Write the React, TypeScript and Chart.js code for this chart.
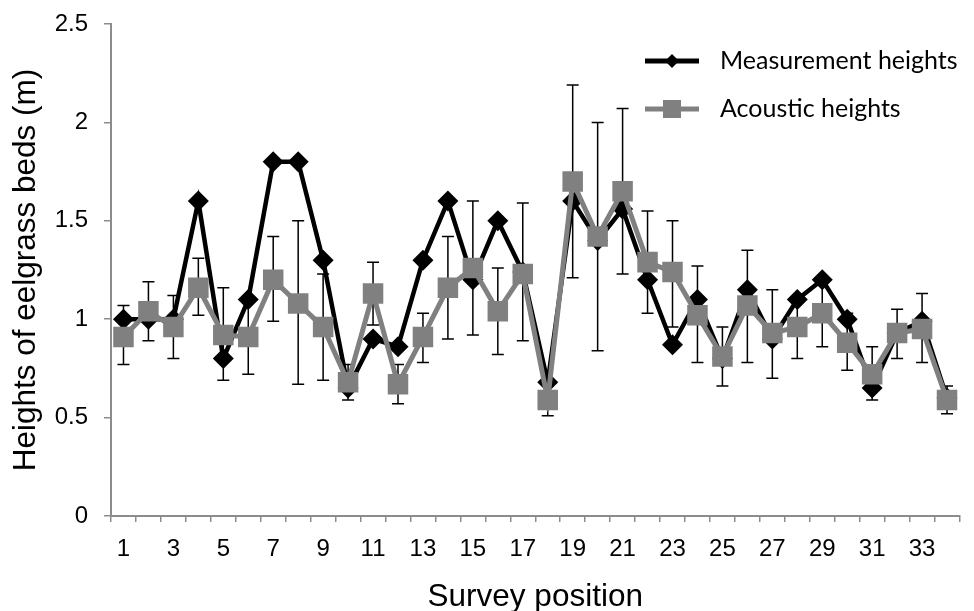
import React, { useEffect, useRef } from "react";
import { Chart, registerables } from "chart.js";

Chart.register(...registerables);

const positions: string[] = Array.from({ length: 34 }, (_, i) => String(i + 1));

const measurementHeights: number[] = [
  1.0, 1.0, 1.0, 1.6, 0.8, 1.1, 1.8, 1.8, 1.3, 0.65, 0.9, 0.86, 1.3, 1.6, 1.2, 1.5, 1.24,
  0.68, 1.6, 1.4, 1.56, 1.2, 0.87, 1.1, 0.8, 1.15, 0.9, 1.1, 1.2, 1.0, 0.65, 0.93, 0.99, 0.6,
];

const acousticHeights: number[] = [
  0.91, 1.04, 0.96, 1.16, 0.92, 0.91, 1.2, 1.08, 0.96, 0.68, 1.13, 0.67, 0.91, 1.16, 1.26,
  1.04, 1.23, 0.59, 1.7, 1.42, 1.65, 1.29, 1.24, 1.02, 0.81, 1.07, 0.93, 0.96, 1.03, 0.88,
  0.72, 0.93, 0.95, 0.59,
];

const errorHigh: number[] = [
  1.07, 1.19, 1.12, 1.31, 1.16, 1.1, 1.42, 1.5, 1.23, 0.77, 1.29, 0.77, 1.03, 1.42, 1.6,
  1.26, 1.59, 0.67, 2.19, 2.0, 2.07, 1.55, 1.5, 1.27, 0.96, 1.35, 1.15, 1.11, 1.2, 1.03,
  0.86, 1.05, 1.13, 0.66,
];

const errorLow: number[] = [
  0.77, 0.89, 0.8, 1.02, 0.69, 0.72, 0.99, 0.67, 0.69, 0.59, 0.97, 0.57, 0.78, 0.9, 0.92,
  0.82, 0.89, 0.51, 1.21, 0.84, 1.23, 1.03, 0.96, 0.78, 0.66, 0.78, 0.7, 0.8, 0.86, 0.74,
  0.59, 0.8, 0.78, 0.52,
];

const yTicks: number[] = [0, 0.5, 1, 1.5, 2, 2.5];

const AXIS_FONT = "'Liberation Sans', Arial, sans-serif";
const LEGEND_FONT = "Lato, 'Open Sans', sans-serif";
const GRAY = "#808080";
const AXIS_GRAY = "#8c8c8c";

const errorBarPlugin = {
  id: "errorBars",
  beforeDatasetsDraw(chart: any) {
    const { ctx, scales } = chart;
    const xs = scales.x;
    const ys = scales.y;
    ctx.save();
    ctx.strokeStyle = "#000";
    ctx.lineWidth = 1.5;
    const cap = 6;
    for (let i = 0; i < positions.length; i++) {
      const x = xs.getPixelForValue(i);
      const yh = ys.getPixelForValue(errorHigh[i]);
      const yl = ys.getPixelForValue(errorLow[i]);
      ctx.beginPath();
      ctx.moveTo(x, yh);
      ctx.lineTo(x, yl);
      ctx.moveTo(x - cap, yh);
      ctx.lineTo(x + cap, yh);
      ctx.moveTo(x - cap, yl);
      ctx.lineTo(x + cap, yl);
      ctx.stroke();
    }
    ctx.restore();
  },
};

const legendPlugin = {
  id: "customLegend",
  afterDraw(chart: any) {
    const { ctx } = chart;
    ctx.save();
    const x0 = 645;
    const x1 = 699;
    const xm = (x0 + x1) / 2;
    const tx = 720;
    let y = 61;
    ctx.strokeStyle = "#000";
    ctx.lineWidth = 5;
    ctx.beginPath();
    ctx.moveTo(x0, y);
    ctx.lineTo(x1, y);
    ctx.stroke();
    ctx.fillStyle = "#000";
    ctx.beginPath();
    const r = 7;
    ctx.moveTo(xm, y - r);
    ctx.lineTo(xm + r, y);
    ctx.lineTo(xm, y + r);
    ctx.lineTo(xm - r, y);
    ctx.closePath();
    ctx.fill();
    ctx.font = `25px ${LEGEND_FONT}`;
    ctx.textBaseline = "middle";
    ctx.textAlign = "left";
    ctx.fillText("Measurement heights", tx, y);
    y = 109;
    ctx.strokeStyle = GRAY;
    ctx.lineWidth = 5;
    ctx.beginPath();
    ctx.moveTo(x0, y);
    ctx.lineTo(x1, y);
    ctx.stroke();
    ctx.fillStyle = GRAY;
    ctx.fillRect(xm - 9, y - 9, 18, 18);
    ctx.fillStyle = "#000";
    ctx.fillText("Acoustic heights", tx, y);
    ctx.restore();
  },
};

export default function App() {
  const canvasRef = useRef<HTMLCanvasElement | null>(null);

  useEffect(() => {
    if (!canvasRef.current) return;
    const chart = new Chart(canvasRef.current, {
      type: "line",
      data: {
        labels: positions,
        datasets: [
          {
            label: "Acoustic heights",
            data: acousticHeights,
            borderColor: GRAY,
            backgroundColor: GRAY,
            borderWidth: 5,
            pointStyle: "rect",
            pointRadius: 14.5,
            pointHoverRadius: 14.5,
            pointBorderWidth: 0,
            pointBackgroundColor: GRAY,
            tension: 0,
            order: 0,
          },
          {
            label: "Measurement heights",
            data: measurementHeights,
            borderColor: "#000",
            backgroundColor: "#000",
            borderWidth: 4.5,
            pointStyle: "rectRot",
            pointRadius: 10.5,
            pointHoverRadius: 10.5,
            pointBorderWidth: 0,
            pointBackgroundColor: "#000",
            tension: 0,
            order: 1,
          },
        ],
      },
      options: {
        animation: false,
        responsive: true,
        maintainAspectRatio: false,
        layout: { padding: { top: 24, right: 4, left: 0, bottom: 0 } },
        plugins: {
          legend: { display: false },
          tooltip: { enabled: false },
        },
        scales: {
          x: {
            type: "category",
            offset: true,
            afterFit: (scale: any) => {
              scale.height = 95;
            },
            grid: {
              display: true,
              offset: true,
              drawOnChartArea: false,
              drawTicks: true,
              tickLength: 6,
              color: AXIS_GRAY,
              lineWidth: 1.5,
            },
            border: { display: true, color: AXIS_GRAY, width: 2 },
            ticks: {
              autoSkip: false,
              maxRotation: 0,
              minRotation: 0,
              padding: 13,
              color: "#000",
              font: { family: AXIS_FONT, size: 24 },
              callback: (_v: any, i: number) => (i % 2 === 0 ? positions[i] : ""),
            },
            title: {
              display: true,
              text: "Survey position",
              color: "#000",
              font: { family: AXIS_FONT, size: 31.5 },
              padding: { top: 0, bottom: -5 },
            },
          },
          y: {
            min: 0,
            max: 2.5,
            afterFit: (scale: any) => {
              scale.width = 111;
              scale.paddingTop = 6;
              scale.paddingBottom = 6;
            },
            afterBuildTicks: (scale: any) => {
              scale.ticks = yTicks.map((v) => ({ value: v }));
            },
            grid: {
              display: true,
              drawOnChartArea: false,
              drawTicks: true,
              tickLength: 7,
              color: AXIS_GRAY,
              lineWidth: 1.5,
            },
            border: { display: true, color: AXIS_GRAY, width: 2 },
            ticks: {
              padding: 16,
              color: "#000",
              font: { family: AXIS_FONT, size: 24 },
              callback: (v: any) => String(Number(v)),
            },
            title: {
              display: true,
              text: "Heights of eelgrass beds (m)",
              color: "#000",
              font: { family: AXIS_FONT, size: 31.5 },
              padding: { top: 7, bottom: 0 },
            },
          },
        },
      },
      plugins: [errorBarPlugin, legendPlugin],
    });
    return () => chart.destroy();
  }, []);

  return (
    <div style={{ position: "absolute", left: 0, top: 0, width: 974, height: 611 }}>
      <canvas ref={canvasRef} />
    </div>
  );
}
